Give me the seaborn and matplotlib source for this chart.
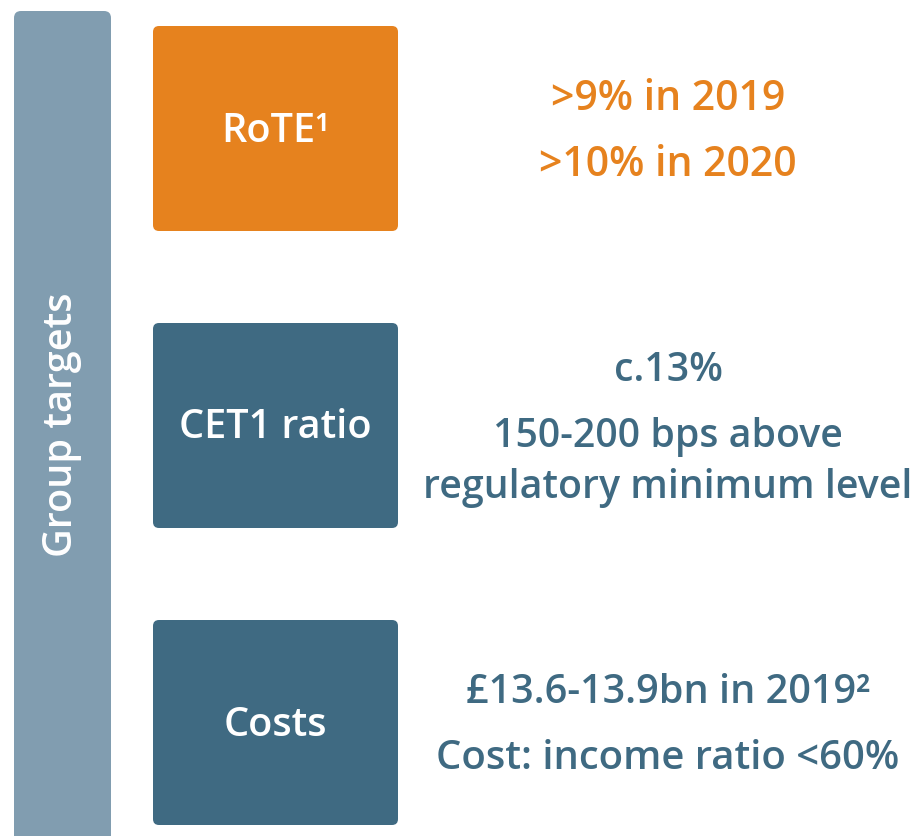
import matplotlib
matplotlib.use("Agg")
import matplotlib.pyplot as plt
from matplotlib.patches import FancyBboxPatch
import seaborn as sns

# ---- content ----
side_label = "Group targets"
box_labels = ["RoTE\u00b9", "CET1 ratio", "Costs"]
box_colors = ["#E6821E", "#3F6A82", "#3F6A82"]
target_lines = [
    [">9% in 2019", ">10% in 2020"],
    ["c.13%", "150-200 bps above", "regulatory minimum level"],
    ["\u00a313.6-13.9bn in 2019\u00b2", "Cost: income ratio <60%"],
]
text_colors = ["#E6821E", "#3F6A82", "#3F6A82"]

# ---- layout (pixels) ----
W, H = 917, 836
box_tops = [26, 323, 620]
box_h = 205
box_x0, box_x1 = 153, 398
line_y = [[99, 165], [371, 437, 488], [693, 759]]
line_size = [[29.5, 29.5], [28.3, 28.3, 28.3], [28.5, 28.8]]
text_cx = 668

sns.set_theme(style="white")
plt.rcParams["font.family"] = ["Open Sans", "DejaVu Sans"]

fig = plt.figure(figsize=(W / 100, H / 100), dpi=100)
ax = fig.add_axes([0, 0, 1, 1])
ax.set_xlim(0, W)
ax.set_ylim(H, 0)
ax.axis("off")

# side bar
ax.add_patch(FancyBboxPatch((14, 11), 97, H + 20, boxstyle="round,pad=0,rounding_size=7",
                            fc="#819DB0", ec="none"))
ax.text(62, 425, side_label, rotation=90, ha="center", va="center",
        color="white", fontsize=28.5, fontweight="semibold")

for lab, col, top, lines, ys, szs, tc in zip(box_labels, box_colors, box_tops,
                                              target_lines, line_y, line_size, text_colors):
    ax.add_patch(FancyBboxPatch((box_x0, top), box_x1 - box_x0, box_h,
                                boxstyle="round,pad=0,rounding_size=6",
                                fc=col, ec="none"))
    ax.text((box_x0 + box_x1) / 2, top + box_h / 2 + 3, lab, ha="center", va="center",
            color="white", fontsize=28.5, fontweight="semibold")
    for s, y, sz in zip(lines, ys, szs):
        ax.text(text_cx, y, s, ha="center", va="center", color=tc,
                fontsize=sz, fontweight="semibold")

fig.savefig("out.png", dpi=100, facecolor="white")
